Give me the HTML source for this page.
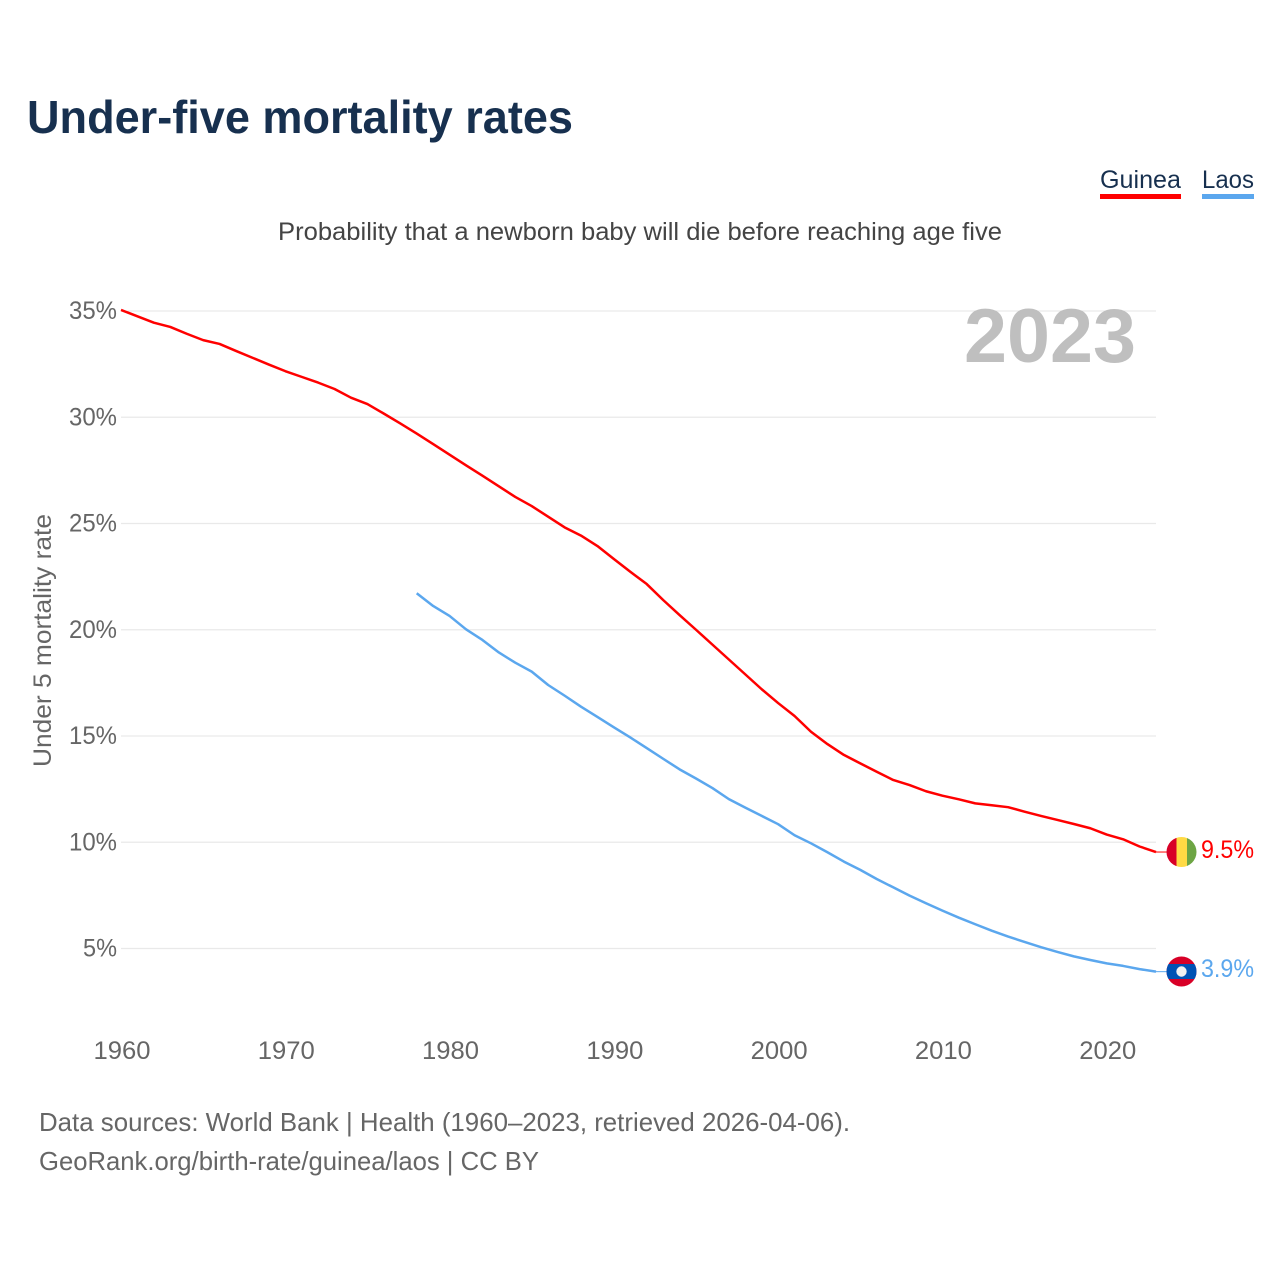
<!DOCTYPE html>
<html lang="en">
<head>
<meta charset="utf-8">
<title>Under-five mortality rates</title>
<style>
html,body{margin:0;padding:0;background:#fff;width:1280px;height:1280px;overflow:hidden}
svg{display:block}
text{font-family:"Liberation Sans",Arial,sans-serif}
</style>
</head>
<body>
<svg id="chart" xmlns="http://www.w3.org/2000/svg" width="1280" height="1280" viewBox="0 0 1280 1280">
  <rect x="0" y="0" width="1280" height="1280" fill="#ffffff"/>
  <text x="27" y="133" font-size="46" font-weight="700" fill="#17304f" textLength="546" lengthAdjust="spacingAndGlyphs">Under-five mortality rates</text>
  <text x="1100" y="188" font-size="25" fill="#17304f" textLength="81" lengthAdjust="spacingAndGlyphs">Guinea</text>
  <rect x="1100" y="194" width="81" height="5" fill="#ff0000"/>
  <text x="1202" y="188" font-size="25" fill="#17304f" textLength="52" lengthAdjust="spacingAndGlyphs">Laos</text>
  <rect x="1202" y="194" width="52" height="5" fill="#5ba7ee"/>
  <text x="278" y="240" font-size="25" fill="#444444" textLength="724" lengthAdjust="spacingAndGlyphs">Probability that a newborn baby will die before reaching age five</text>
  <text transform="translate(51,767) rotate(-90)" font-size="25" fill="#666666" textLength="253" lengthAdjust="spacingAndGlyphs">Under 5 mortality rate</text>
  <g id="grid"></g>
  <g id="y-ticks"></g>
  <g id="x-ticks"></g>
  <text x="964" y="362" font-size="76" font-weight="700" fill="#bfbfbf" textLength="172" lengthAdjust="spacingAndGlyphs">2023</text>
  <g id="series"></g>
  <g>
    <clipPath id="clip-g"><circle cx="1181.5" cy="852" r="15"/></clipPath>
    <g clip-path="url(#clip-g)">
      <rect x="1166" y="836" width="10.5" height="32" fill="#d80027"/>
      <rect x="1176.5" y="836" width="10.5" height="32" fill="#ffda44"/>
      <rect x="1187" y="836" width="10" height="32" fill="#6da544"/>
    </g>
  </g>
  <g>
    <clipPath id="clip-l"><circle cx="1181.5" cy="971.5" r="15"/></clipPath>
    <g clip-path="url(#clip-l)">
      <rect x="1166" y="955" width="32" height="33" fill="#d80027"/>
      <rect x="1166" y="964" width="32" height="15" fill="#0052b4"/>
      <circle cx="1181.5" cy="971.5" r="5.2" fill="#f0f0f0"/>
    </g>
  </g>
  <text x="1201" y="858" font-size="25" fill="#ff0000" textLength="53" lengthAdjust="spacingAndGlyphs">9.5%</text>
  <text x="1201" y="977" font-size="25" fill="#5ba7ee" textLength="53" lengthAdjust="spacingAndGlyphs">3.9%</text>
  <text x="39" y="1131" font-size="26" fill="#666666" textLength="811" lengthAdjust="spacingAndGlyphs">Data sources: World Bank | Health (1960–2023, retrieved 2026-04-06).</text>
  <text x="39" y="1170" font-size="26" fill="#666666" textLength="500" lengthAdjust="spacingAndGlyphs">GeoRank.org/birth-rate/guinea/laos | CC BY</text>
</svg>
<script>
const guineaStartYear = 1960;
const guineaValues = [35.05,34.75,34.45,34.25,33.93,33.63,33.45,33.12,32.8,32.48,32.17,31.9,31.63,31.33,30.92,30.62,30.17,29.71,29.23,28.74,28.24,27.74,27.25,26.75,26.25,25.82,25.32,24.82,24.43,23.94,23.33,22.73,22.15,21.4,20.69,20.0,19.3,18.6,17.9,17.2,16.55,15.94,15.2,14.62,14.11,13.71,13.32,12.93,12.69,12.4,12.19,12.02,11.83,11.74,11.65,11.44,11.24,11.05,10.86,10.66,10.36,10.14,9.8,9.54];
const laosStartYear = 1978;
const laosValues = [21.72,21.12,20.65,20.02,19.52,18.93,18.45,18.03,17.4,16.9,16.38,15.9,15.41,14.93,14.43,13.93,13.43,13.0,12.55,12.03,11.63,11.24,10.85,10.33,9.95,9.53,9.09,8.7,8.27,7.88,7.49,7.13,6.78,6.45,6.14,5.84,5.56,5.31,5.06,4.84,4.63,4.46,4.3,4.18,4.03,3.91];
const yTickValues = [5,10,15,20,25,30,35];
const xTickYears = [1960,1970,1980,1990,2000,2010,2020];

const NS = 'http://www.w3.org/2000/svg';
function xScale(year){ return 121 + (year - 1960) * (1156 - 121) / 63; }
function yScale(value){ return 948.5 - (value - 5) * (948.5 - 311) / 30; }

const gridGroup = document.getElementById('grid');
const yTickGroup = document.getElementById('y-ticks');
const xTickGroup = document.getElementById('x-ticks');
const seriesGroup = document.getElementById('series');

yTickValues.forEach(function(v){
  const line = document.createElementNS(NS, 'line');
  
  
  line.setAttribute('x1', 121);
  line.setAttribute('x2', 1156);
  line.setAttribute('y1', yScale(v));
  line.setAttribute('y2', yScale(v));
  line.setAttribute('stroke', '#e9e9e9');
  line.setAttribute('stroke-width', '1.3');
  gridGroup.appendChild(line);

  const label = document.createElementNS(NS, 'text');
  
  
  label.setAttribute('x', v < 10 ? 83 : 69);
  label.setAttribute('y', yScale(v) + 8);
  label.setAttribute('font-size', '25');
  label.setAttribute('fill', '#666666');
  label.setAttribute('textLength', v < 10 ? 34 : 48);
  label.setAttribute('lengthAdjust', 'spacingAndGlyphs');
  label.textContent = v + '%';
  yTickGroup.appendChild(label);
});

xTickYears.forEach(function(year){
  const label = document.createElementNS(NS, 'text');
  
  
  label.setAttribute('x', xScale(year) - 27.5);
  label.setAttribute('y', 1059);
  label.setAttribute('font-size', '25');
  label.setAttribute('fill', '#666666');
  label.setAttribute('textLength', 57);
  label.setAttribute('lengthAdjust', 'spacingAndGlyphs');
  label.textContent = year;
  xTickGroup.appendChild(label);
});

function drawSeries(values, startYear, color, name){
  const pts = values.map(function(v, i){
    return xScale(startYear + i).toFixed(2) + ',' + yScale(v).toFixed(2);
  });
  const line = document.createElementNS(NS, 'polyline');
  
  
  line.setAttribute('points', pts.join(' '));
  line.setAttribute('fill', 'none');
  line.setAttribute('stroke', color);
  line.setAttribute('stroke-width', '2.5');
  line.setAttribute('stroke-linejoin', 'round');
  seriesGroup.appendChild(line);

  const lastY = yScale(values[values.length - 1]);
  const connector = document.createElementNS(NS, 'line');
  
  
  connector.setAttribute('x1', xScale(2023));
  connector.setAttribute('x2', 1167);
  connector.setAttribute('y1', lastY);
  connector.setAttribute('y2', lastY);
  connector.setAttribute('stroke', color);
  connector.setAttribute('stroke-width', '1');
  seriesGroup.appendChild(connector);
}
drawSeries(guineaValues, guineaStartYear, '#ff0000', 'line-guinea');
drawSeries(laosValues, laosStartYear, '#5ba7ee', 'line-laos');
</script>
</body>
</html>
